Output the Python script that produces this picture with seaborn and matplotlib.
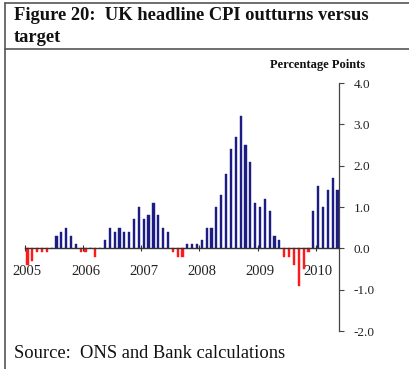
import numpy as np
import pandas as pd
import matplotlib
matplotlib.use("Agg")
import matplotlib.pyplot as plt
from matplotlib.lines import Line2D
import seaborn as sns

# ---- data (CPI outturn minus 2% target, percentage points) ----
months = pd.date_range("2005-01-01", periods=65, freq="MS")
values = [
    -0.4, -0.3, -0.1, -0.1, -0.1, 0.0, 0.3, 0.4, 0.5, 0.3, 0.1, -0.1,   # 2005
    -0.1, 0.0, -0.2, 0.0, 0.2, 0.5, 0.4, 0.5, 0.4, 0.4, 0.7, 1.0,       # 2006
    0.7, 0.8, 1.1, 0.8, 0.5, 0.4, -0.1, -0.2, -0.2, 0.1, 0.1, 0.1,      # 2007
    0.2, 0.5, 0.5, 1.0, 1.3, 1.8, 2.4, 2.7, 3.2, 2.5, 2.1, 1.1,         # 2008
    1.0, 1.2, 0.9, 0.3, 0.2, -0.2, -0.2, -0.4, -0.9, -0.5, -0.1, 0.9,   # 2009
    1.5, 1.0, 1.4, 1.7, 1.4,                                            # 2010
]
year_labels = ["2005", "2006", "2007", "2008", "2009", "2010"]
y_ticks = [-2.0, -1.0, 0.0, 1.0, 2.0, 3.0, 4.0]

NAVY = "#1c1c82"
RED = "#ff1a1a"
SERIF = ["Liberation Serif", "DejaVu Serif"]

sns.set_theme(style="white")
plt.rcParams["font.family"] = SERIF

df = pd.DataFrame({"month": np.arange(len(values)), "value": values})
df["sign"] = np.where(df["value"] < 0, "neg", "pos")

fig = plt.figure(figsize=(4.09, 3.69), dpi=100)
ax = fig.add_axes([25 / 409, 1 - 331 / 369, (339 - 25) / 409, (331 - 83) / 369])

sns.barplot(data=df, x="month", y="value", hue="sign",
            palette={"pos": NAVY, "neg": RED}, dodge=False,
            native_scale=True, width=0.45, saturation=1,
            legend=False, ax=ax, linewidth=0.3)
for p in ax.patches:
    p.set_edgecolor(p.get_facecolor())

ax.set_xlim(-0.5, 64.3)
ax.set_ylim(-2.0, 4.0)
ax.set_xlabel("")
ax.set_ylabel("")

# spines
for s in ["left", "top"]:
    ax.spines[s].set_visible(False)
ax.spines["bottom"].set_position(("data", 0))
ax.spines["bottom"].set_color("#333333")
ax.spines["bottom"].set_linewidth(1.0)
ax.spines["right"].set_color("#444444")
ax.spines["right"].set_linewidth(0.9)

# y axis on right
ax.yaxis.tick_right()
ax.set_yticks(y_ticks)
ax.set_yticklabels([f"{t:.1f}" for t in y_ticks])
ax.tick_params(axis="y", which="major", direction="out", length=3.5,
               width=0.8, color="#444444", pad=7, labelsize=9.5,
               labelcolor="#222222", right=True, left=False)

# x axis: year labels at January, boundary ticks
jan_idx = [i for i, m in enumerate(months) if m.month == 1]
ax.set_xticks(jan_idx)
ax.set_xticklabels(year_labels)
ax.tick_params(axis="x", which="major", length=0, pad=12, labelsize=10.5,
               labelcolor="#222222", bottom=True)
ax.set_xticks([i - 0.5 for i in jan_idx], minor=True)
ax.tick_params(axis="x", which="minor", direction="inout", length=5,
               width=0.8, color="#333333", bottom=True)
ax.grid(False)

# Percentage points label
fig.text(318 / 409, 1 - 65 / 369, "Percentage Points", ha="center", va="center",
         fontsize=9, fontweight="bold", family=SERIF, color="#111111")

# title
fig.text(14 / 409, 1 - 16 / 369, "Figure 20:  UK headline CPI outturns versus",
         ha="left", va="center", fontsize=13.3, fontweight="bold",
         family=SERIF, color="#111111")
fig.text(14 / 409, 1 - 37 / 369, "target",
         ha="left", va="center", fontsize=13.3, fontweight="bold",
         family=SERIF, color="#111111")

# source
fig.text(14 / 409, 1 - 353 / 369, "Source:  ONS and Bank calculations",
         ha="left", va="center", fontsize=13.3, family=SERIF, color="#111111")

# frame lines
lc = "#555555"
fig.add_artist(Line2D([5 / 409, 5 / 409], [0, 1 - 3 / 369], transform=fig.transFigure,
                      color=lc, lw=1.2))
fig.add_artist(Line2D([5 / 409, 1], [1 - 3 / 369, 1 - 3 / 369], transform=fig.transFigure,
                      color=lc, lw=1.2))
fig.add_artist(Line2D([5 / 409, 1], [1 - 49 / 369, 1 - 49 / 369], transform=fig.transFigure,
                      color=lc, lw=1.2))

fig.savefig("out.png", dpi=100)
